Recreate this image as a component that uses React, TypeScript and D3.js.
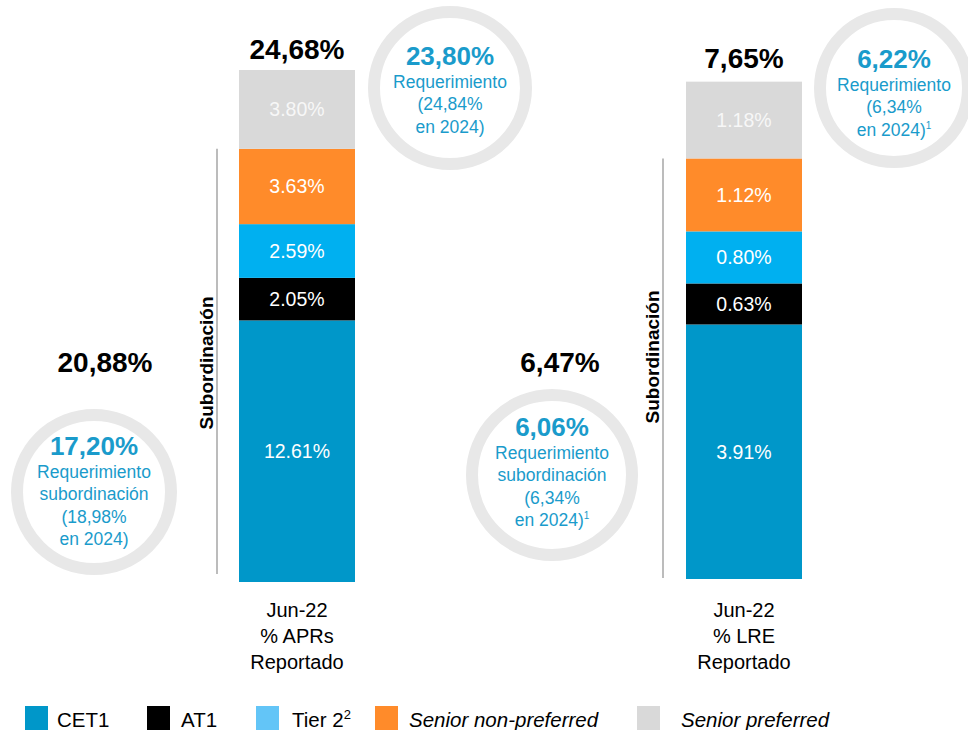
import React from "react";
import * as d3 from "d3";

// Capital stack per reporting basis
const categories = ["APRs", "LRE"];
const categoryLabels = [
  ["Jun-22", "% APRs", "Reportado"],
  ["Jun-22", "% LRE", "Reportado"],
];
const seriesNames = ["CET1", "AT1", "Tier 2", "Senior non-preferred", "Senior preferred"];
const cet1 = [12.61, 3.91];
const at1 = [2.05, 0.63];
const tier2 = [2.59, 0.8];
const seniorNonPreferred = [3.63, 1.12];
const seniorPreferred = [3.8, 1.18];
const totalLabels = ["24,68%", "7,65%"];
const totals = [24.68, 7.65];
const subordinationLabels = ["20,88%", "6,47%"];

// Requirement callouts
const requirementValues = ["23,80%", "6,22%", "17,20%", "6,06%"];
const requirementLines = [
  ["Requerimiento", "(24,84%", "en 2024)"],
  ["Requerimiento", "(6,34%", "en 2024)"],
  ["Requerimiento", "subordinación", "(18,98%", "en 2024)"],
  ["Requerimiento", "subordinación", "(6,34%", "en 2024)"],
];
const requirementFootnote = [false, true, false, true];

const barColors = ["#0097c9", "#000000", "#00b0f0", "#ff8b2a", "#d9d9d9"];
const legendColors = ["#0097c9", "#000000", "#63c5f7", "#ff8b2a", "#d9d9d9"];
const TEAL = "#1a9bcb";
const FONT = "'Liberation Sans', Arial, Helvetica, sans-serif";

const seriesValues = [cet1, at1, tier2, seniorNonPreferred, seniorPreferred];

export default function App() {
  const x = d3.scalePoint<string>().domain(categories).range([297, 744]);
  const barWidth = 116;
  const yScales = [
    d3.scaleLinear().domain([0, totals[0]]).range([582, 70]),
    d3.scaleLinear().domain([0, totals[1]]).range([579, 81]),
  ];

  const rows = categories.map((c, i) => {
    const row: Record<string, number | string> = { category: c };
    seriesNames.forEach((s, k) => (row[s] = seriesValues[k][i]));
    return row;
  });
  const stack = d3.stack<any>().keys(seriesNames);
  const stacked = stack(rows as any);

  // subordination bracket spans everything below senior preferred
  const subordinationTop = categories.map((_, i) => yScales[i](stacked[3][i][1]));

  const circles = [
    { cx: 450, cy: 88, r: 76, y0: 65 },
    { cx: 894, cy: 88, r: 74, y0: 68 },
    { cx: 94, cy: 492, r: 77, y0: 455 },
    { cx: 552, cy: 475, r: 80, y0: 436 },
  ];

  const legendX = [25, 147, 256, 375, 637];
  const legendTextX = [57, 181, 292, 409, 681];

  return (
    <svg
      width={968}
      height={730}
      style={{ position: "absolute", left: 0, top: 0, background: "#fff" }}
      fontFamily={FONT}
    >
      {/* requirement rings */}
      {circles.map((c, i) => (
        <g key={"c" + i}>
          <circle cx={c.cx} cy={c.cy} r={c.r} fill="none" stroke="#e8e8e8" strokeWidth={12} />
          <text x={c.cx} y={c.y0} textAnchor="middle" fontSize={26} fontWeight="bold" fill={TEAL}>
            {requirementValues[i]}
          </text>
          {requirementLines[i].map((line, j) => (
            <text
              key={j}
              x={c.cx}
              y={c.y0 + 22.5 * (j + 1)}
              textAnchor="middle"
              fontSize={17.5}
              fill={TEAL}
            >
              {line}
              {requirementFootnote[i] && j === requirementLines[i].length - 1 ? (
                <tspan fontSize={10} dy={-7}>
                  1
                </tspan>
              ) : null}
            </text>
          ))}
        </g>
      ))}

      {/* stacked bars */}
      {stacked.map((layer, k) =>
        layer.map((d, i) => {
          const y = yScales[i];
          const top = y(d[1]);
          const bottom = y(d[0]);
          const cx = x(categories[i]) as number;
          return (
            <g key={`${k}-${i}`}>
              <rect
                x={cx - barWidth / 2}
                y={top}
                width={barWidth}
                height={bottom - top}
                fill={barColors[k]}
              />
              <text
                x={cx}
                y={(top + bottom) / 2 + 7}
                textAnchor="middle"
                fontSize={19.5}
                fill={k === 4 ? "#f7f7f7" : "#ffffff"}
              >
                {seriesValues[k][i].toFixed(2)}%
              </text>
            </g>
          );
        })
      )}

      {/* totals above bars */}
      {categories.map((c, i) => (
        <text
          key={"t" + i}
          x={x(c) as number}
          y={i === 0 ? 59 : 68}
          textAnchor="middle"
          fontSize={28}
          fontWeight="bold"
          fill="#000"
        >
          {totalLabels[i]}
        </text>
      ))}

      {/* subordination brackets */}
      {categories.map((c, i) => {
        const lineX = (x(c) as number) - (i === 0 ? 80 : 81);
        const bottom = i === 0 ? 574 : 578;
        const mid = i === 0 ? 363 : 357;
        return (
          <g key={"s" + i}>
            <line
              x1={lineX}
              x2={lineX}
              y1={subordinationTop[i]}
              y2={bottom}
              stroke="#a6a6a6"
              strokeWidth={1.5}
            />
            <text
              transform={`translate(${lineX - 4},${mid}) rotate(-90)`}
              textAnchor="middle"
              fontSize={19}
              fontWeight="bold"
              fill="#000"
            >
              Subordinación
            </text>
          </g>
        );
      })}

      {/* subordination totals */}
      {[105, 560].map((tx, i) => (
        <text key={"st" + i} x={tx} y={372} textAnchor="middle" fontSize={28} fontWeight="bold" fill="#000">
          {subordinationLabels[i]}
        </text>
      ))}

      {/* category labels */}
      {categories.map((c, i) =>
        categoryLabels[i].map((line, j) => (
          <text
            key={`l${i}-${j}`}
            x={x(c) as number}
            y={617 + 26 * j}
            textAnchor="middle"
            fontSize={20}
            fill="#000"
          >
            {line}
          </text>
        ))
      )}

      {/* legend */}
      {seriesNames.map((s, k) => (
        <g key={"lg" + k}>
          <rect x={legendX[k]} y={706} width={23} height={24} fill={legendColors[k]} />
          <text
            x={legendTextX[k]}
            y={727}
            fontSize={20.5}
            fill="#000"
            fontStyle={k >= 3 ? "italic" : "normal"}
          >
            {s}
            {k === 2 ? (
              <tspan fontSize={13} dy={-8}>
                2
              </tspan>
            ) : null}
          </text>
        </g>
      ))}
    </svg>
  );
}
